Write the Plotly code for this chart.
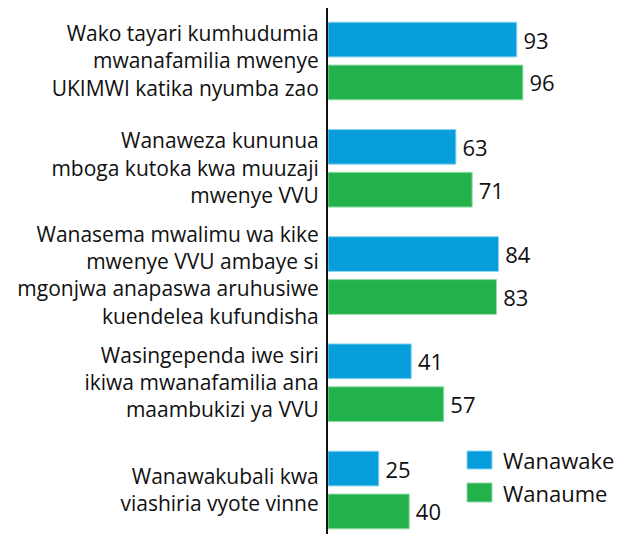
import plotly.graph_objects as go

categories = [
    "Wako tayari kumhudumia<br>mwanafamilia mwenye<br>UKIMWI katika nyumba zao",
    "Wanaweza kununua<br>mboga kutoka kwa muuzaji<br>mwenye VVU",
    "Wanasema mwalimu wa kike<br>mwenye VVU ambaye si<br>mgonjwa anapaswa aruhusiwe<br>kuendelea kufundisha",
    "Wasingependa iwe siri<br>ikiwa mwanafamilia ana<br>maambukizi ya VVU",
    "Wanawakubali kwa<br>viashiria vyote vinne",
]
wanawake = [93, 63, 84, 41, 25]
wanaume = [96, 71, 83, 57, 40]
series_names = ["Wanawake", "Wanaume"]

BLUE = "#069FDB"
GREEN = "#23B14B"
BLUE_EDGE = "#8fd3f0"
GREEN_EDGE = "#8fdca4"
FONT = "Open Sans"

# page body has an 8px default margin; work in window pixels and shift
OFF = 8
W, H = 622 - OFF, 534 - OFF
L, R, T, B = 328 - OFF, 0, 0, 0
pw, ph = W - L - R, H - T - B

fig = go.Figure()
for vals, name, col, edge in [(wanawake, series_names[0], BLUE, BLUE_EDGE),
                              (wanaume, series_names[1], GREEN, GREEN_EDGE)]:
    fig.add_trace(go.Bar(
        y=categories, x=vals, orientation="h", name=name,
        marker=dict(color=col, line=dict(color=edge, width=1)),
        text=vals, texttemplate="\u2009%{x}", textposition="outside", cliponaxis=False,
        textfont=dict(family=FONT, size=22, color="#111"),
        showlegend=False,
    ))

def px(x):
    return (x - OFF - L) / pw

def py(y):
    return (H - B - (y - OFF)) / ph

# window-pixel centers of categories: first at 61, spacing 107.25
c0, step = 61.0, 107.25
top_win, bot_win = OFF + T, OFF + H - B
r_top = -(c0 - top_win) / step
r_bot = (bot_win - c0) / step

shapes = []
annotations = []
legend_items = [(series_names[0], BLUE, BLUE_EDGE, 451, 469), (series_names[1], GREEN, GREEN_EDGE, 483, 502)]
for name, col, edge, y0, y1 in legend_items:
    shapes.append(dict(type="rect", xref="paper", yref="paper",
                       x0=px(467), x1=px(492), y0=py(y1), y1=py(y0),
                       fillcolor=col, line=dict(color=edge, width=1)))
    annotations.append(dict(xref="paper", yref="paper", x=px(501), y=py((y0 + y1) / 2),
                            text=name, showarrow=False, xanchor="left", yanchor="middle",
                            font=dict(family=FONT, size=22, color="#111")))

fig.update_layout(
    width=W, height=H,
    margin=dict(l=L, r=R, t=T, b=B, autoexpand=False),
    paper_bgcolor="white", plot_bgcolor="white",
    barmode="group", bargap=0.2, bargroupgap=0.19,
    font=dict(family=FONT, size=21, color="#111"),
    xaxis=dict(range=[0, pw / 2.03], visible=False, fixedrange=True),
    yaxis=dict(range=[r_bot, r_top], showline=True, linecolor="#111", linewidth=2,
               ticks="", showgrid=False, zeroline=False, ticklabelstandoff=3,
               tickfont=dict(family=FONT, size=21, color="#111"), automargin=False),
    shapes=shapes, annotations=annotations,
)

fig.write_html("out.html")
